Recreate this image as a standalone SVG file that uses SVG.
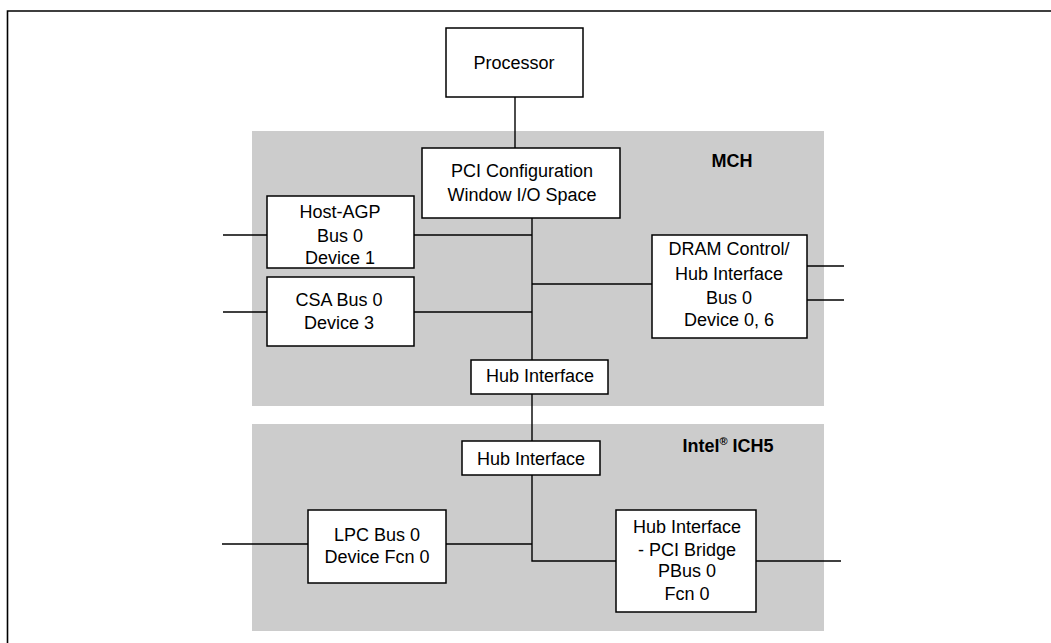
<svg xmlns="http://www.w3.org/2000/svg" width="1051" height="643" viewBox="0 0 1051 643">
<style>
.bg{fill:#cccccc;stroke:none}
.box{fill:#ffffff;stroke:#000;stroke-width:1.5}
.ln{fill:none;stroke:#000;stroke-width:1.4}
.t{font-family:"Liberation Sans",Arial,sans-serif;font-size:18px;fill:#000;text-anchor:middle}
.b{font-family:"Liberation Sans",Arial,sans-serif;font-size:18px;font-weight:bold;fill:#000;text-anchor:middle}
</style>
<rect x="0" y="0" width="1051" height="643" fill="#ffffff"/>
<path d="M7.5,643 V11 H1051" fill="none" stroke="#000" stroke-width="1.6"/>
<g id="mch">
<rect class="bg" x="252" y="131" width="572" height="275"/>
<text class="b" x="732" y="167">MCH</text>
</g>
<g id="ich5">
<rect class="bg" x="252" y="424" width="572" height="207"/>
<text class="b" x="728" y="452">Intel<tspan font-size="11" dy="-7">®</tspan><tspan dy="7"> ICH5</tspan></text>
</g>
<g id="connectors">
<path class="ln" d="M515,97 V148"/>
<path class="ln" d="M532,218 V360"/>
<path class="ln" d="M414,235 H532"/>
<path class="ln" d="M414,312 H532"/>
<path class="ln" d="M532,284 H652"/>
<path class="ln" d="M223,235 H267"/>
<path class="ln" d="M223,312 H267"/>
<path class="ln" d="M807,266 H844"/>
<path class="ln" d="M807,300 H844"/>
<path class="ln" d="M532,394 V441"/>
<path class="ln" d="M532,475 V561 H616"/>
<path class="ln" d="M446,544 H532"/>
<path class="ln" d="M222,544 H308"/>
<path class="ln" d="M756,561 H841"/>
</g>
<g id="processor">
<rect class="box" x="446" y="28" width="137" height="69"/>
<text class="t" x="514" y="69">Processor</text>
</g>
<g id="pci-config">
<rect class="box" x="422" y="148" width="198" height="70"/>
<text class="t" x="522" y="177">PCI Configuration</text>
<text class="t" x="522" y="201">Window  I/O Space</text>
</g>
<g id="host-agp">
<rect class="box" x="267" y="196" width="147" height="72"/>
<text class="t" x="340" y="218">Host-AGP</text>
<text class="t" x="340" y="242">Bus 0</text>
<text class="t" x="340" y="264">Device 1</text>
</g>
<g id="csa">
<rect class="box" x="267" y="277" width="147" height="69"/>
<text class="t" x="339" y="306">CSA Bus 0</text>
<text class="t" x="339" y="329">Device 3</text>
</g>
<g id="dram">
<rect class="box" x="652" y="235" width="155" height="103"/>
<text class="t" x="729" y="255">DRAM Control/</text>
<text class="t" x="729" y="280">Hub Interface</text>
<text class="t" x="729" y="304">Bus 0</text>
<text class="t" x="729" y="326">Device 0, 6</text>
</g>
<g id="hub-mch">
<rect class="box" x="471" y="360" width="137" height="34"/>
<text class="t" x="540" y="382">Hub Interface</text>
</g>
<g id="hub-ich">
<rect class="box" x="462" y="441" width="138" height="34"/>
<text class="t" x="531" y="465">Hub Interface</text>
</g>
<g id="lpc">
<rect class="box" x="308" y="510" width="138" height="73"/>
<text class="t" x="377" y="541">LPC Bus 0</text>
<text class="t" x="377" y="563">Device Fcn 0</text>
</g>
<g id="pci-bridge">
<rect class="box" x="616" y="510" width="140" height="102"/>
<text class="t" x="687" y="533">Hub Interface</text>
<text class="t" x="687" y="556">- PCI Bridge</text>
<text class="t" x="687" y="577">PBus 0</text>
<text class="t" x="687" y="600">Fcn 0</text>
</g>
</svg>
